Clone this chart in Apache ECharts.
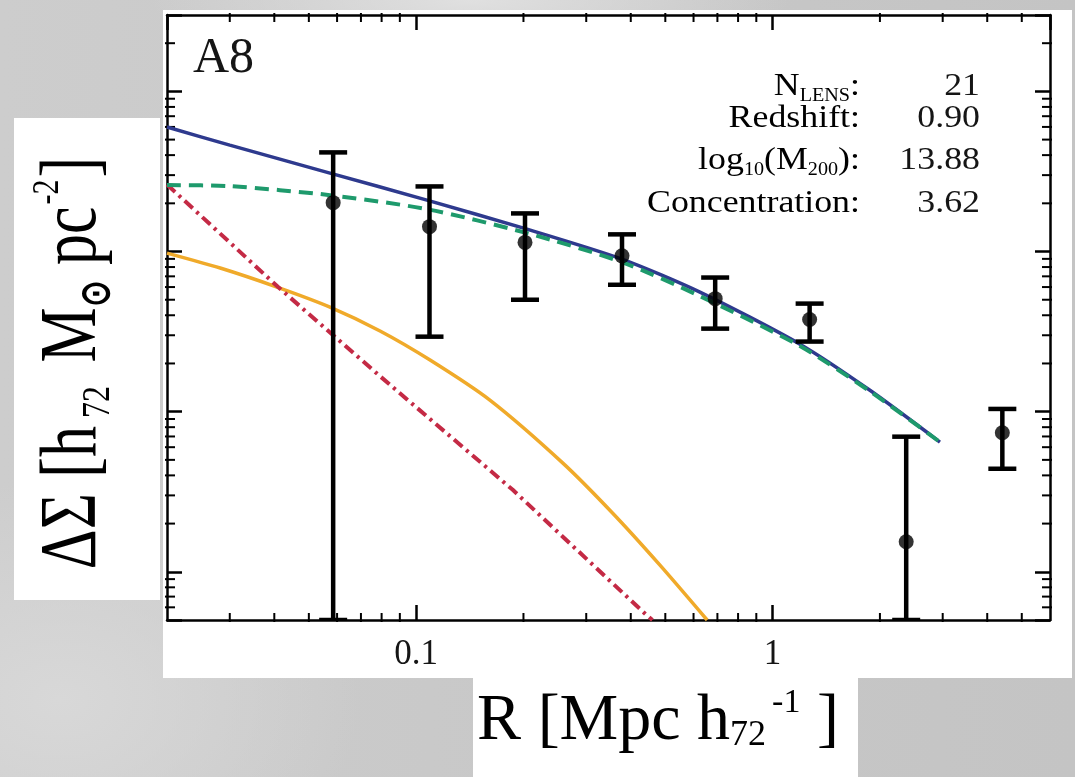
<!DOCTYPE html>
<html><head><meta charset="utf-8">
<script src="https://cdn.jsdelivr.net/npm/echarts@6/dist/echarts.min.js"></script>
<style>
html,body{margin:0;padding:0;width:1075px;height:777px;overflow:hidden;}
body{background:
 radial-gradient(ellipse 320px 70px at 470px 0px, #e0e0e0 0%, rgba(224,224,224,0) 100%),
 radial-gradient(ellipse 300px 220px at 60px 700px, #d8d8d8 0%, rgba(216,216,216,0) 100%),
 linear-gradient(90deg,#cdcdcd 0%,#c8c8c8 50%,#c4c4c4 100%);}
#chart{width:1075px;height:777px;}
</style></head><body><div id="chart"></div>
<script>
// ---- axis ranges & ticks ----
const X_MIN = 0.02, X_MAX = 6;
const Y_MIN = 0.5, Y_MAX = 3000;
const xMajorTicks = [0.1, 1];
const xTickLabels = ['0.1', '1'];
const xMinorTicks = [0.03,0.04,0.05,0.06,0.07,0.08,0.09,0.2,0.3,0.4,0.5,0.6,0.7,0.8,0.9,2,3,4,5];
const yMinorTicks = [0.6,0.7,0.8,0.9,2,3,4,5,6,7,8,9,20,30,40,50,60,70,80,90,200,300,400,500,600,700,800,900,2000];

// ---- measured points ----
const radius     = [0.0585, 0.109, 0.202, 0.378, 0.69, 1.27, 2.37, 4.41];
const deltaSigma = [202, 143, 114, 94, 50.8, 37.6, 1.54, 7.39];
const errLow     = [0.5, 29.4, 50, 62, 33.0, 27.4, 0.5, 4.4];
const errHigh    = [416, 255, 173, 128, 68.8, 47.3, 6.98, 10.4];

// ---- model curves ----
const totalR     = [0.02, 0.030, 0.0573, 0.1072, 0.2046, 0.3777, 0.6253, 1.193, 1.875, 2.947];
const totalSigma = [599, 462, 309, 209.6, 138, 89.7, 55.8, 26.4, 13.6, 6.46];
const nfwR       = [0.02, 0.030, 0.0573, 0.1072, 0.2046, 0.3777, 0.6253, 1.193, 1.875, 2.947];
const nfwSigma   = [260, 256, 225, 184, 130.4, 85.9, 52.7, 25.7, 13.4, 6.46];
const bcgR       = [0.02, 0.041, 0.0793, 0.1866, 0.4415, 0.46];
const bcgSigma   = [262, 60, 16.6, 3.25, 0.54, 0.5];
const stellarR     = [0.02, 0.0282, 0.0407, 0.0573, 0.0792, 0.1094, 0.161, 0.258, 0.356, 0.483, 0.655];
const stellarSigma = [97.8, 78.9, 60.0, 45.0, 31.9, 21.0, 11.8, 4.77, 2.32, 1.10, 0.50];

// ---- annotation ----
const panelName = 'A8';
const infoLabels = ['{m|N}{s|LENS}{m|:}', '{m|Redshift:}', '{m|log}{s|10}{m|(M}{s|200}{m|):}', '{m|Concentration:}'];
const infoValues = ['21', '0.90', '13.88', '3.62'];

const zip = (a, b) => a.map((v, i) => [v, b[i]]);
const SERIF = '"Liberation Serif","Times New Roman",serif';
const TXT = '#151515';

const chart = echarts.init(document.getElementById('chart'), null, {renderer: 'canvas'});

function xMinorRender(params, api) {
  const v = api.value(0);
  const b = api.coord([v, Y_MIN]), t = api.coord([v, Y_MAX]);
  return {type: 'group', children: [
    {type: 'line', shape: {x1: b[0], y1: b[1] + 2, x2: b[0], y2: b[1] - 7}, style: {stroke: '#000', lineWidth: 2}},
    {type: 'line', shape: {x1: t[0], y1: t[1] - 2, x2: t[0], y2: t[1] + 7}, style: {stroke: '#000', lineWidth: 2}}
  ]};
}
function yMinorRender(params, api) {
  const v = api.value(1);
  const l = api.coord([X_MIN, v]), r = api.coord([X_MAX, v]);
  return {type: 'group', children: [
    {type: 'line', shape: {x1: l[0] - 2, y1: l[1], x2: l[0] + 8, y2: l[1]}, style: {stroke: '#000', lineWidth: 2}},
    {type: 'line', shape: {x1: r[0] + 2, y1: r[1], x2: r[0] - 8, y2: r[1]}, style: {stroke: '#000', lineWidth: 2}}
  ]};
}
function errRender(params, api) {
  const x = api.value(0), lo = api.value(2), hi = api.value(3);
  const pH = api.coord([x, hi]), pL = api.coord([x, lo]);
  const hw = 14, st = {stroke: '#000', lineWidth: 4.5};
  return {type: 'group', children: [
    {type: 'line', shape: {x1: pH[0], y1: pH[1], x2: pL[0], y2: pL[1]}, style: st},
    {type: 'line', shape: {x1: pH[0] - hw, y1: pH[1], x2: pH[0] + hw, y2: pH[1]}, style: st},
    {type: 'line', shape: {x1: pL[0] - hw, y1: pL[1], x2: pL[0] + hw, y2: pL[1]}, style: st}
  ]};
}

const axisCommon = {
  type: 'log', logBase: 10,
  axisLine: {show: true, onZero: false, lineStyle: {color: '#000', width: 2.5}},
  axisTick: {show: true, inside: true, length: 15, lineStyle: {color: '#000', width: 2.5}},
  splitLine: {show: false}, minorTick: {show: false}
};

const richMain = {
  m: {fontFamily: SERIF, fontSize: 32, color: TXT, lineHeight: 36, verticalAlign: 'middle'},
  s: {fontFamily: SERIF, fontSize: 18, color: TXT, lineHeight: 18, verticalAlign: 'bottom'}
};
const rowY = [87, 119, 161, 204];

const graphics = [
  {type: 'rect', z: -10, shape: {x: 163, y: 10, width: 909, height: 668}, style: {fill: '#fff'}},
  {type: 'rect', z: -10, shape: {x: 14, y: 118, width: 146, height: 482}, style: {fill: '#fff'}},
  {type: 'rect', z: -10, shape: {x: 473, y: 677, width: 385, height: 100}, style: {fill: '#fff'}},
  {type: 'text', z: 10, x: 193, y: 59, style: {text: panelName, font: '50px ' + SERIF, fill: TXT, align: 'left', verticalAlign: 'middle'}},
  {type: 'text', z: 10, x: 74, y: 363, rotation: Math.PI / 2, scaleY: 1.28, style: {
    text: '{m|ΔΣ [h}{s|72}{m| M}{o|⊙}{m| pc}{p|-2}{m|]}', align: 'center', verticalAlign: 'middle',
    rich: {
      m: {fontFamily: SERIF, fontSize: 62, color: '#000', lineHeight: 70, verticalAlign: 'middle'},
      s: {fontFamily: SERIF, fontSize: 32, color: '#000', lineHeight: 32, verticalAlign: 'bottom', padding: [0, 8, 0, 8]},
      o: {fontFamily: SERIF, fontSize: 32, color: '#000', lineHeight: 32, verticalAlign: 'bottom', fontWeight: 'bold'},
      p: {fontFamily: SERIF, fontSize: 30, color: '#000', lineHeight: 30, verticalAlign: 'top', padding: [0, 2, 0, 2]}
    }}},
  {type: 'text', z: 10, x: 658, y: 722, style: {
    text: '{m|R [Mpc h}{s|72}{p|-1}{m| ]}', align: 'center', verticalAlign: 'middle',
    rich: {
      m: {fontFamily: SERIF, fontSize: 66, color: '#000', lineHeight: 76, verticalAlign: 'middle'},
      s: {fontFamily: SERIF, fontSize: 36, color: '#000', lineHeight: 36, verticalAlign: 'bottom', padding: [0, 0, 6, 0]},
      p: {fontFamily: SERIF, fontSize: 34, color: '#000', lineHeight: 34, verticalAlign: 'top', padding: [2, 0, 0, 6]}
    }}}
];
infoLabels.forEach((t, i) => {
  graphics.push({type: 'text', z: 10, x: 860, y: rowY[i], scaleX: 1.12, style: {text: t, rich: richMain, align: 'right', verticalAlign: 'middle'}});
  graphics.push({type: 'text', z: 10, x: 980, y: rowY[i], scaleX: 1.12, style: {text: infoValues[i], font: '32px ' + SERIF, fill: TXT, align: 'right', verticalAlign: 'middle'}});
});

chart.setOption({
  animation: false,
  backgroundColor: 'transparent',
  grid: {left: 167, right: 25, top: 15, bottom: 157, containLabel: false},
  xAxis: [
    Object.assign({}, axisCommon, {position: 'bottom', min: X_MIN, max: X_MAX,
      axisLabel: {show: true, margin: 17, fontFamily: SERIF, fontSize: 35, color: TXT,
        showMinLabel: false, showMaxLabel: false,
        formatter: v => { const i = xMajorTicks.findIndex(t => Math.abs(t - v) / t < 1e-6); return i >= 0 ? xTickLabels[i] : ''; }}}),
    Object.assign({}, axisCommon, {position: 'top', min: X_MIN, max: X_MAX, axisLabel: {show: false}})
  ],
  yAxis: [
    Object.assign({}, axisCommon, {position: 'left', min: Y_MIN, max: Y_MAX, axisLabel: {show: false}}),
    Object.assign({}, axisCommon, {position: 'right', min: Y_MIN, max: Y_MAX, axisLabel: {show: false}})
  ],
  graphic: graphics,
  series: [
    {type: 'custom', silent: true, renderItem: xMinorRender, data: xMinorTicks.map(v => [v, Y_MIN]), z: 1},
    {type: 'custom', silent: true, renderItem: yMinorRender, data: yMinorTicks.map(v => [X_MIN, v]), z: 1},
    {name: 'stellar', type: 'line', data: zip(stellarR, stellarSigma), showSymbol: false, smooth: 0.25, clip: true,
      lineStyle: {color: '#f0aa2a', width: 3.5}, z: 2},
    {name: 'bcg', type: 'line', data: zip(bcgR, bcgSigma), showSymbol: false, clip: true,
      lineStyle: {color: '#c42a45', width: 4, type: [11, 5, 3, 5]}, z: 2},
    {name: 'total', type: 'line', data: zip(totalR, totalSigma), showSymbol: false, smooth: 0.25, clip: true,
      lineStyle: {color: '#2e3a8e', width: 3.5}, z: 3},
    {name: 'nfw', type: 'line', data: zip(nfwR, nfwSigma), showSymbol: false, smooth: 0.25, clip: true,
      lineStyle: {color: '#1e9a6c', width: 4, type: [14, 8]}, z: 4},
    {name: 'err', type: 'custom', renderItem: errRender, silent: true, clip: true,
      data: radius.map((r, i) => [r, deltaSigma[i], errLow[i], errHigh[i]]), encode: {x: 0, y: 1}, z: 5},
    {name: 'data', type: 'scatter', data: zip(radius, deltaSigma), symbol: 'circle', symbolSize: 15,
      itemStyle: {color: '#000'}, z: 6}
  ]
});
</script></body></html>
